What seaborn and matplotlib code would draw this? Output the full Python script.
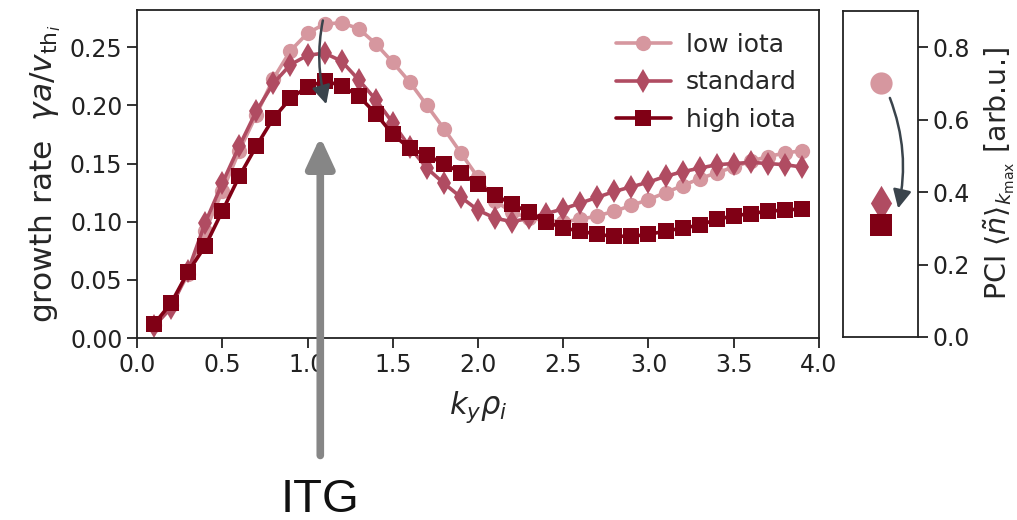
import numpy as np
import pandas as pd
import matplotlib
matplotlib.use("Agg")
import matplotlib.pyplot as plt
import seaborn as sns

# ---------------- data ----------------
ky = [round(0.1 * i, 1) for i in range(1, 40)]

gamma_low = [0.011, 0.028, 0.055, 0.092, 0.126, 0.161, 0.192, 0.223, 0.247, 0.262,
             0.270, 0.271, 0.266, 0.253, 0.237, 0.220, 0.200, 0.180, 0.159, 0.138,
             0.118, 0.108, 0.103, 0.101, 0.100, 0.102, 0.105, 0.109, 0.114, 0.119,
             0.125, 0.131, 0.137, 0.142, 0.147, 0.152, 0.156, 0.159, 0.161]

gamma_std = [0.010, 0.026, 0.058, 0.099, 0.133, 0.165, 0.195, 0.219, 0.235, 0.243,
             0.245, 0.238, 0.222, 0.205, 0.185, 0.164, 0.146, 0.133, 0.121, 0.110,
             0.103, 0.100, 0.103, 0.107, 0.111, 0.116, 0.121, 0.126, 0.130, 0.134,
             0.139, 0.143, 0.146, 0.149, 0.150, 0.151, 0.150, 0.149, 0.147]

gamma_high = [0.012, 0.030, 0.057, 0.079, 0.109, 0.139, 0.165, 0.189, 0.206, 0.216,
              0.221, 0.217, 0.208, 0.193, 0.175, 0.163, 0.157, 0.150, 0.142, 0.132,
              0.123, 0.115, 0.108, 0.100, 0.0945, 0.092, 0.089, 0.0875, 0.0875, 0.089,
              0.092, 0.0945, 0.097, 0.102, 0.105, 0.107, 0.109, 0.110, 0.111]

configs = ["low iota", "standard", "high iota"]
pci_values = [0.70, 0.37, 0.31]

colors = {"low iota": "#d6979f", "standard": "#b04c62", "high iota": "#800015"}
markers = {"low iota": "o", "standard": "d", "high iota": "s"}
msizes = {"low iota": 11, "standard": 12.5, "high iota": 11}
msizes_right = {"low iota": 16, "standard": 18, "high iota": 16}

df = pd.DataFrame({
    "ky": ky * 3,
    "gamma": gamma_low + gamma_std + gamma_high,
    "config": ["low iota"] * len(ky) + ["standard"] * len(ky) + ["high iota"] * len(ky),
})
df_pci = pd.DataFrame({"config": configs, "pci": pci_values, "pos": [0, 0, 0]})

# ---------------- figure ----------------
sns.set_theme(style="ticks")
plt.rcParams["font.family"] = ["DejaVu Sans"]
plt.rcParams["mathtext.fontset"] = "dejavusans"

fig = plt.figure(figsize=(10.17, 5.20), dpi=100)
ax = fig.add_axes([137 / 1017, 1 - 338 / 520, (819 - 137) / 1017, (338 - 10) / 520])
ax2 = fig.add_axes([843 / 1017, 1 - 337 / 520, (918 - 843) / 1017, (337 - 11) / 520])

for c in configs:
    sub = df[df["config"] == c]
    sns.lineplot(data=sub, x="ky", y="gamma", ax=ax, color=colors[c], marker=markers[c],
                 markersize=msizes[c], markeredgewidth=0, linewidth=2.6, label=c,
                 legend=False)

ax.set_xlim(0, 4.0)
ax.set_ylim(0, 0.282)
ax.set_xticks(np.arange(0, 4.01, 0.5))
ax.set_yticks(np.arange(0, 0.26, 0.05))
ax.xaxis.set_major_formatter(matplotlib.ticker.FormatStrFormatter("%.1f"))
ax.yaxis.set_major_formatter(matplotlib.ticker.FormatStrFormatter("%.2f"))
ax.tick_params(labelsize=17, length=7, width=1.3, colors="#222222")
for s in ax.spines.values():
    s.set_linewidth(1.3)
    s.set_color("#222222")
ax.set_xlabel(r"$k_y\rho_i$", fontsize=22, labelpad=9)
ax.set_ylabel(r"growth rate  $\gamma a/v_{\mathrm{th}_i}$", fontsize=22.5, labelpad=5)

leg = ax.legend(loc="upper right", frameon=False, fontsize=18, handlelength=2.2,
                borderaxespad=0.5, labelspacing=0.55, handletextpad=0.6)

# curved dark arrow in main panel
ax.annotate("", xy=(1.11, 0.201), xytext=(1.09, 0.273),
            arrowprops=dict(arrowstyle="-|>", color="#3a444c", lw=1.8,
                            mutation_scale=28, connectionstyle="arc3,rad=0.12",
                            shrinkA=0, shrinkB=0))

# ITG gray arrow
ax.annotate("", xy=(1.075, 0.173), xytext=(1.075, -0.101),
            arrowprops=dict(arrowstyle="-|>,head_width=0.3,head_length=0.65",
                            color="#868686", lw=5.5, mutation_scale=28,
                            shrinkA=0, shrinkB=0),
            annotation_clip=False)
fig.text(320 / 1017, 1 - 512 / 520, "ITG", fontsize=34, family="Liberation Sans",
         ha="center", va="baseline", color="#111111")

# right panel
for c in configs:
    sub = df_pci[df_pci["config"] == c]
    sns.scatterplot(data=sub, x="pos", y="pci", ax=ax2, color=colors[c], marker=markers[c],
                    s=msizes_right[c] ** 2, linewidth=0, legend=False, zorder=3)
ax2.set_xlim(-1, 1)
ax2.set_ylim(0, 0.9)
ax2.set_xticks([])
ax2.set_yticks(np.arange(0, 0.81, 0.2))
ax2.yaxis.set_major_formatter(matplotlib.ticker.FormatStrFormatter("%.1f"))
ax2.yaxis.tick_right()
ax2.yaxis.set_label_position("right")
ax2.tick_params(labelsize=17, length=7, width=1.3, colors="#222222")
for s in ax2.spines.values():
    s.set_linewidth(1.3)
    s.set_color("#222222")
ax2.set_xlabel("")
ax2.set_ylabel(r"PCI $\langle\tilde{n}\rangle_{k_{\mathrm{max}}}$ [arb.u.]", fontsize=20.5,
               labelpad=8)
ax2.annotate("", xy=(0.47, 0.355), xytext=(0.25, 0.66),
             arrowprops=dict(arrowstyle="-|>", color="#3a444c", lw=1.8,
                             mutation_scale=28, connectionstyle="arc3,rad=-0.15",
                             shrinkA=0, shrinkB=0))

fig.savefig("out.png", dpi=100)
